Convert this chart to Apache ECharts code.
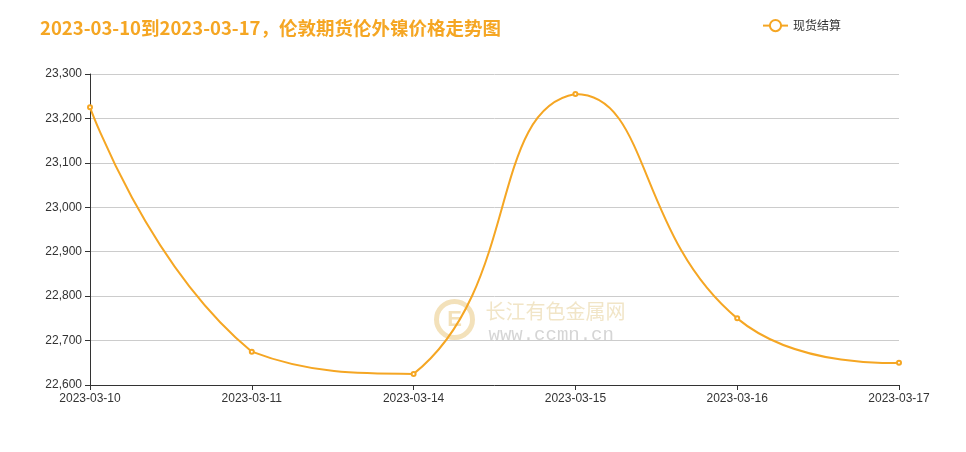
<!DOCTYPE html>
<html><head><meta charset="utf-8">
<script src="https://cdn.jsdelivr.net/npm/echarts@6/dist/echarts.min.js"></script>
<style>html,body{margin:0;padding:0;background:#fff}#c{width:966px;height:452px}</style>
</head><body><div id="c"></div>
<script>
const categories = ['2023-03-10','2023-03-11','2023-03-14','2023-03-15','2023-03-16','2023-03-17'];
const settlement = [23225, 22675, 22625, 23255, 22750, 22650];
const seriesName = '现货结算';
const titleText = '2023-03-10到2023-03-17，伦敦期货伦外镍价格走势图';
const color = '#f5a623';
const SMOOTH = 0.5;

// Smooth curve through points (bezier with bounding-box constraint), built from library coords
function renderCurve(params, api) {
  if (params.dataIndex !== 0) return;
  const pts = settlement.map((v, i) => api.coord([i, v]));
  let minX = Infinity, minY = Infinity, maxX = -Infinity, maxY = -Infinity;
  pts.forEach(p => { minX = Math.min(minX, p[0]); maxX = Math.max(maxX, p[0]); minY = Math.min(minY, p[1]); maxY = Math.max(maxY, p[1]); });
  const clamp = c => [Math.min(Math.max(c[0], minX), maxX), Math.min(Math.max(c[1], minY), maxY)];
  const dist = (a, b) => Math.hypot(a[0] - b[0], a[1] - b[1]);
  let d = 'M' + pts[0][0] + ' ' + pts[0][1];
  let cp0 = pts[0].slice();
  for (let k = 1; k < pts.length; k++) {
    const p = pts[k], prev = pts[k - 1], next = pts[k + 1];
    let nextCp0, v = [0, 0], ratio = 0.5;
    if (!next) { nextCp0 = p.slice(); }
    else {
      v = [next[0] - prev[0], next[1] - prev[1]];
      const lp = dist(p, prev), ln = dist(p, next);
      ratio = ln / (ln + lp);
      nextCp0 = [p[0] - v[0] * SMOOTH * (1 - ratio), p[1] - v[1] * SMOOTH * (1 - ratio)];
    }
    nextCp0 = clamp(nextCp0);
    cp0 = clamp(cp0);
    d += ' C' + cp0[0] + ' ' + cp0[1] + ' ' + nextCp0[0] + ' ' + nextCp0[1] + ' ' + p[0] + ' ' + p[1];
    cp0 = [p[0] + v[0] * SMOOTH * ratio, p[1] + v[1] * SMOOTH * ratio];
  }
  return { type: 'path', shape: { pathData: d }, style: { fill: 'none', stroke: color, lineWidth: 2 }, silent: true };
}

const chart = echarts.init(document.getElementById('c'));
chart.setOption({
  animation: false,
  title: { text: titleText, left: 35, top: 14, textStyle: { color: color, fontSize: 18.5, fontWeight: 'bold', fontFamily: 'Noto Sans CJK SC' } },
  legend: { data: [{ name: seriesName, lineStyle: { opacity: 1, color: color, width: 2 } }], top: 14, left: 757, itemWidth: 25, itemHeight: 14, textStyle: { fontSize: 12, color: '#333', fontFamily: 'Noto Sans CJK SC' } },
  grid: { left: 90, right: 67, top: 74, bottom: 67 },
  graphic: [
    { type: 'group', left: 434, top: 299, z: -1, silent: true, children: [
      { type: 'circle', shape: { cx: 21, cy: 21, r: 18 }, style: { fill: 'none', stroke: 'rgba(235,205,140,0.6)', lineWidth: 5 } },
      { type: 'text', style: { x: 21, y: 21, text: 'E', fill: 'rgba(235,205,140,0.6)', font: 'bold 22px sans-serif', align: 'center', verticalAlign: 'middle' } },
      { type: 'text', style: { x: 52, y: 3, text: '长江有色金属网', fill: 'rgba(238,222,185,0.8)', font: '20px "Noto Sans CJK SC"' } },
      { type: 'text', style: { x: 55, y: 27, text: 'www.ccmn.cn', fill: 'rgba(195,195,195,0.7)', font: '19px "Liberation Mono"' } }
    ]}
  ],
  xAxis: {
    type: 'category', boundaryGap: false, data: categories,
    axisLine: { lineStyle: { color: '#333' } },
    axisTick: { alignWithLabel: true, lineStyle: { color: '#333' } },
    axisLabel: { color: '#333', fontSize: 12, margin: 8, fontFamily: 'sans-serif' }
  },
  yAxis: {
    type: 'value', min: 22600, max: 23300, interval: 100,
    axisLine: { show: true, lineStyle: { color: '#333' } },
    axisTick: { show: true, lineStyle: { color: '#333' } },
    axisLabel: { color: '#333', fontSize: 12, fontFamily: 'sans-serif' },
    splitLine: { lineStyle: { color: '#ccc' } }
  },
  series: [
    { name: 'curve', type: 'custom', data: settlement.map((v, i) => [i, v]), renderItem: renderCurve, z: 2, silent: true },
    {
      name: seriesName, type: 'line', data: settlement, z: 3,
      symbol: 'emptyCircle', symbolSize: 4,
      itemStyle: { color: color },
      lineStyle: { color: color, width: 2, opacity: 0 }
    }
  ]
});
</script></body></html>
